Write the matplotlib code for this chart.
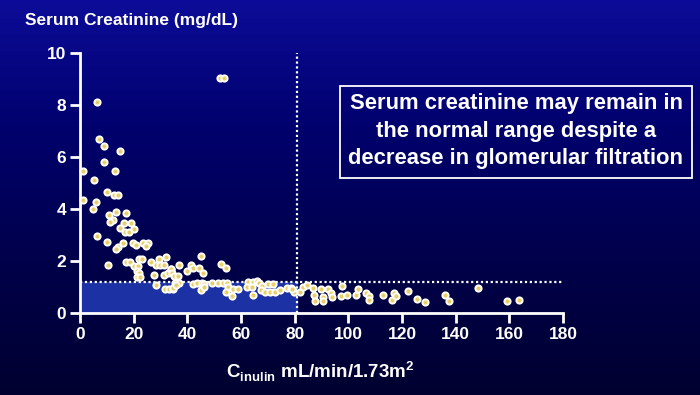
import numpy as np
import matplotlib
matplotlib.use("Agg")
import matplotlib.pyplot as plt
from matplotlib.colors import LinearSegmentedColormap
from matplotlib.patches import Rectangle

# inulin clearance (mL/min/1.73m2) vs serum creatinine (mg/dL)
c_inulin = [
    6.2, 7.0, 8.9, 14.9, 8.9, 1.1, 13.2, 5.2, 10.1, 12.7, 14.0,
    1.1, 6.0, 4.7, 10.7, 13.4, 17.0, 12.2, 11.3, 16.3, 19.1, 15.0,
    16.8, 18.3, 20.2, 6.5, 10.1, 16.0, 14.3, 13.5, 19.8, 21.0, 23.6,
    25.5, 24.5, 10.4, 17.3, 18.6, 22.1, 23.1, 20.1, 21.6, 26.5, 29.4,
    32.0, 28.4, 29.9, 31.4, 21.1, 22.0, 21.1, 22.5, 27.5, 31.4, 32.9,
    34.0, 28.3, 31.7, 33.2, 34.5,
    45.1, 36.9, 41.4, 42.0, 39.9, 44.5, 45.7, 52.7, 54.3, 33.9, 34.2,
    35.1, 36.4, 35.4, 37.0, 42.2, 43.7, 45.4, 46.3, 34.5, 35.8, 45.0,
    46.2, 49.2, 51.5, 53.2, 54.7, 55.2, 54.4, 56.5, 57.1, 59.0, 62.7,
    64.4, 65.9, 62.4, 64.0, 64.6, 66.8, 67.9, 69.9, 71.8, 67.3, 69.0,
    70.8, 72.7, 74.5, 77.0, 78.5, 79.9, 52.2, 53.7,
    78.9, 82.0, 83.0, 84.7, 87.0, 87.6, 87.2, 89.8, 90.7, 90.7, 92.3,
    93.5, 93.8, 97.5, 97.2, 99.6, 102.9, 103.5, 106.6, 107.8, 107.8,
    112.8, 116.2, 117.0, 117.8, 122.4, 125.5, 128.6, 136.0, 137.5,
    148.5, 159.0, 163.7,
]
s_creat = [
    8.1, 6.68, 6.42, 6.22, 5.82, 5.47, 5.45, 5.1, 4.65, 4.54, 4.54,
    4.33, 4.27, 4.01, 3.78, 3.87, 3.86, 3.58, 3.5, 3.47, 3.47, 3.26,
    3.12, 3.12, 3.23, 2.95, 2.74, 2.68, 2.55, 2.47, 2.68, 2.6, 2.68,
    2.68, 2.59, 1.83, 1.97, 1.97, 2.08, 2.08, 1.82, 1.82, 1.95, 2.08,
    2.15, 1.86, 1.86, 1.86, 1.62, 1.53, 1.37, 1.37, 1.45, 1.45, 1.53,
    1.69, 1.08, 0.93, 0.93, 0.93,
    2.19, 1.86, 1.86, 1.72, 1.6, 1.72, 1.54, 1.87, 1.74, 1.68, 1.53,
    1.43, 1.43, 1.17, 1.17, 1.12, 1.14, 1.17, 1.12, 0.97, 1.07, 0.88,
    1.01, 1.17, 1.14, 1.17, 1.14, 0.99, 0.82, 0.67, 0.92, 0.92, 1.2,
    1.2, 1.24, 0.99, 0.99, 0.69, 1.17, 1.05, 1.1, 1.1, 0.87, 0.82,
    0.81, 0.81, 0.88, 0.96, 0.96, 0.81, 9.05, 9.05,
    0.91, 0.81, 0.99, 1.07, 0.97, 0.47, 0.69, 0.91, 0.6, 0.45, 0.91,
    0.78, 0.6, 1.04, 0.65, 0.68, 0.68, 0.91, 0.78, 0.65, 0.5,
    0.69, 0.5, 0.78, 0.67, 0.86, 0.53, 0.41, 0.69, 0.47,
    0.95, 0.47, 0.5,
]

gfr_cut = 81
creat_cut = 1.2
x_ticks = [0, 20, 40, 60, 80, 100, 120, 140, 160, 180]
y_ticks = [0, 2, 4, 6, 8, 10]
note = ("Serum creatinine may remain in\n"
        "the normal range despite a\n"
        "decrease in glomerular filtration")

plt.rcParams["font.family"] = ["Liberation Sans", "DejaVu Sans"]
plt.rcParams["font.weight"] = "bold"
plt.rcParams["mathtext.fontset"] = "custom"
plt.rcParams["mathtext.bf"] = "Liberation Sans:bold"

fig = plt.figure(figsize=(7, 3.95), dpi=100)

# slide background: blue fading to dark navy
bg = fig.add_axes([0, 0, 1, 1])
cmap = LinearSegmentedColormap.from_list("slide", ["#0c0c98", "#00006c", "#00004a", "#000030"])
bg.imshow(np.linspace(0, 1, 256).reshape(-1, 1), aspect="auto", cmap=cmap,
          extent=[0, 1, 0, 1])
bg.set_axis_off()

ax = fig.add_axes([80 / 700, 1 - 313 / 395, 483 / 700, 260 / 395])
ax.patch.set_alpha(0)

# "normal" creatinine region left of the cutoff
ax.fill_between([0, gfr_cut], 0, creat_cut, color="#1c31a4", zorder=1)
ax.plot([0, 180], [creat_cut, creat_cut], color="white", ls=(0, (1, 1.2)), lw=1.6, zorder=2)
ax.plot([gfr_cut, gfr_cut], [0, 10], color="white", ls=(0, (1, 1.2)), lw=1.6, zorder=2)

ax.scatter(c_inulin, s_creat, s=20, facecolor="#e8cf6a", edgecolor="white",
           linewidth=1.4, zorder=3, clip_on=False)

ax.set_xlim(0, 180)
ax.set_ylim(0, 10)
ax.set_xticks(x_ticks)
ax.set_yticks(y_ticks)
for side in ["top", "right"]:
    ax.spines[side].set_visible(False)
for side in ["left", "bottom"]:
    ax.spines[side].set_color("white")
    ax.spines[side].set_linewidth(2)
ax.tick_params(colors="white", width=2, length=7, labelsize=12.5, pad=3)
for lab in ax.get_xticklabels() + ax.get_yticklabels():
    lab.set_fontweight("bold")

fig.text(25 / 700, 1 - 20 / 395, "Serum Creatinine (mg/dL)", color="white",
         fontsize=12.5, fontweight="bold", va="center", ha="left")
fig.text(320 / 700, 1 - 372 / 395, r"C$_{\mathbf{inulin}}$ mL/min/1.73m$^{\mathbf{2}}$",
         color="white", fontsize=13.5, fontweight="bold", va="center", ha="center")

# note box
fig.patches.append(Rectangle((340 / 700, 1 - 178 / 395), 352 / 700, 92 / 395,
                             transform=fig.transFigure, facecolor="none",
                             edgecolor="white", linewidth=1.3))
fig.text(516 / 700, 1 - 131 / 395, note, color="white", fontsize=15.8,
         fontweight="bold", ha="center", va="center", linespacing=1.4)

fig.savefig("out.png", dpi=100)
